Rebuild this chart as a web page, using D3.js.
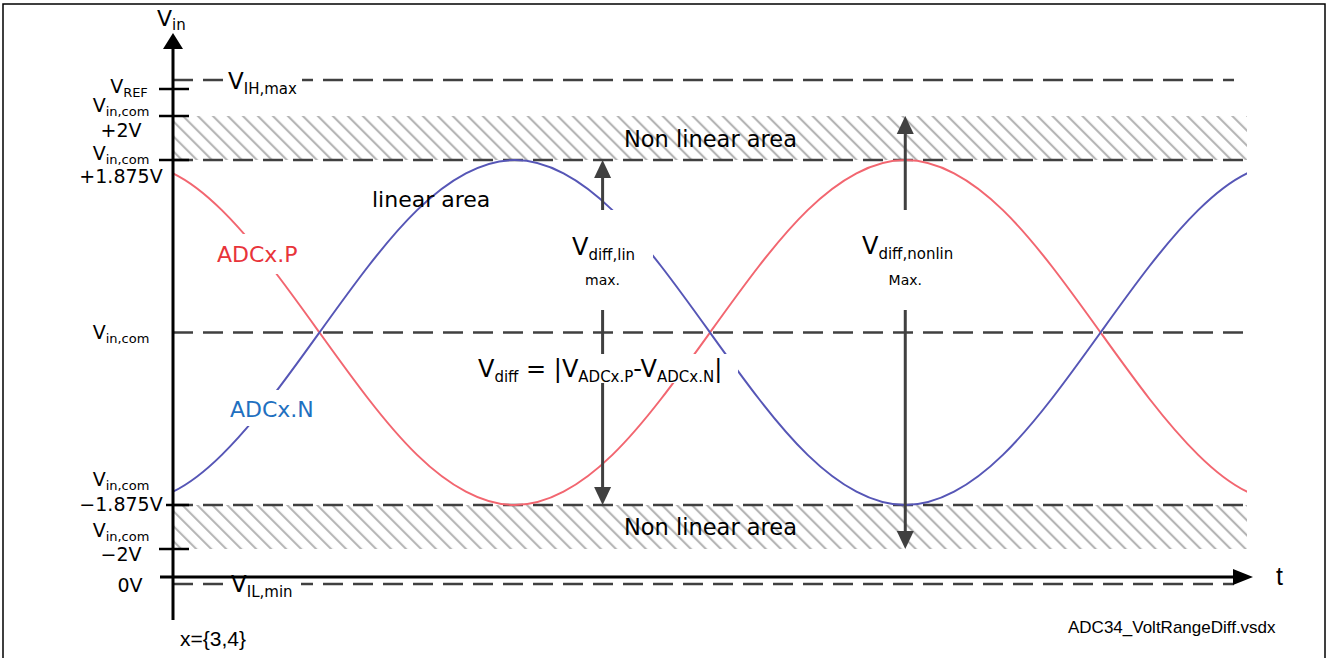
<!DOCTYPE html>
<html>
<head>
<meta charset="utf-8">
<script src="https://cdn.jsdelivr.net/npm/d3@7"></script>
<style>
  body { margin: 0; background: #fff; }
  text { font-family: "DejaVu Sans", Verdana, sans-serif; }
</style>
</head>
<body>
<svg id="chart" width="1329" height="658"></svg>
<script>

// time samples, 1/16 of a period apart (one period = 8 units);
// one extra sample past each edge so the curve keeps its slope there
var tSamples = [-0.5, 0, 0.5, 1, 1.5, 2, 2.5, 3, 3.5, 4, 4.5, 5, 5.5,
                6, 6.5, 7, 7.5, 8, 8.5, 9, 9.5, 10, 10.5, 11, 11.5];

// input voltages, volts relative to Vin,com
var adcP = [1.875, 1.73, 1.33, 0.72, 0, -0.72, -1.33, -1.73, -1.875, -1.73, -1.33, -0.72, 0,
            0.72, 1.33, 1.73, 1.875, 1.73, 1.33, 0.72, 0, -0.72, -1.33, -1.73, -1.875];
var adcN = [-1.875, -1.73, -1.33, -0.72, 0, 0.72, 1.33, 1.73, 1.875, 1.73, 1.33, 0.72, 0,
            -0.72, -1.33, -1.73, -1.875, -1.73, -1.33, -0.72, 0, 0.72, 1.33, 1.73, 1.875];

// reference levels on the vertical axis (schematic, not to scale)
var levelNames = ["VIL,min", "0V", "Vin,com-2V", "Vin,com-1.875V",
                  "Vin,com+1.875V", "Vin,com+2V", "VREF", "VIH,max"];
var levelVolts = [-2.6, -2.5, -2, -1.875, 1.875, 2, 2.5, 2.6];

// tick labels: value, lines of [main, subscript]
var tickLabels = [
    { v: 2.5,    lines: [["V", "REF"]] },
    { v: 2,      lines: [["V", "in,com"], ["+2V", ""]] },
    { v: 1.875,  lines: [["V", "in,com"], ["+1.875V", ""]] },
    { v: 0,      lines: [["V", "in,com"]] },
    { v: -1.875, lines: [["V", "in,com"], ["\u22121.875V", ""]] },
    { v: -2,     lines: [["V", "in,com"], ["\u22122V", ""]] },
    { v: -2.5,   lines: [["0V", ""]] }
];
var tickMarks = [2.5, 2, 1.875, -1.875, -2];
var dashedFull = [1.875, 0, -1.875];
var dashedShort = [2.6, -2.6];

// arrow annotations: time position, from level, to level
var arrows = [
    { t: 4.4, from: -1.875, to: 1.875 },
    { t: 7.5, from: -2, to: 2 }
];

// ---- layout ----
var svg = d3.select("#chart");
var yStops = [584, 577, 549, 505, 160, 116, 89, 80];
var x = d3.scaleLinear().domain([0, 11]).range([173, 1247]);
var y = d3.scaleLinear().domain(levelVolts).range(yStops);
var axisX = x(0);
var dashColor = "#404040";

// frame
svg.append("rect")
    .attr("x", 3).attr("y", 4)
    .attr("width", 1322).attr("height", 660)
    .attr("fill", "none")
    .attr("stroke", "#000")
    .attr("stroke-width", 1.5);

var defs = svg.append("defs");

// hatch pattern
defs.append("pattern")
    .attr("id", "hatch")
    .attr("patternUnits", "userSpaceOnUse")
    .attr("width", 10.6).attr("height", 10.6)
    .attr("patternTransform", "rotate(-45)")
    .append("line")
    .attr("x1", 5).attr("y1", 0)
    .attr("x2", 5).attr("y2", 10.6)
    .attr("stroke", "#b0b0b0")
    .attr("stroke-width", 2);

// clip for the signals
defs.append("clipPath")
    .attr("id", "plotclip")
    .append("rect")
    .attr("x", x(0)).attr("y", 0)
    .attr("width", x(11) - x(0)).attr("height", 658);

[[1.875, 2], [-2, -1.875]].forEach(function (b) {
    svg.append("rect")
        .attr("x", axisX)
        .attr("y", y(b[1]))
        .attr("width", x(11) - axisX)
        .attr("height", y(b[0]) - y(b[1]))
        .attr("fill", "url(#hatch)");
});

// dashed reference lines
svg.selectAll(".dfull")
    .data(dashedFull)
    .enter().append("line")
    .attr("x1", axisX).attr("x2", x(11))
    .attr("y1", function (d) { return y(d); })
    .attr("y2", function (d) { return y(d); })
    .attr("stroke", dashColor)
    .attr("stroke-width", 2.5)
    .attr("stroke-dasharray", "20 10");

svg.selectAll(".dshort")
    .data(dashedShort)
    .enter().append("line")
    .attr("x1", axisX).attr("x2", 1234)
    .attr("y1", function (d) { return y(d); })
    .attr("y2", function (d) { return y(d); })
    .attr("stroke", dashColor)
    .attr("stroke-width", 2.5)
    .attr("stroke-dasharray", "20 10");

// signals
var line = d3.line()
    .x(function (d, i) { return x(tSamples[i]); })
    .y(function (d) { return y(d); })
    .curve(d3.curveNatural);

var sig = svg.append("g").attr("clip-path", "url(#plotclip)");
sig.append("path").attr("d", line(adcP))
    .attr("fill", "none").attr("stroke", "#f26670").attr("stroke-width", 2);
sig.append("path").attr("d", line(adcN))
    .attr("fill", "none").attr("stroke", "#5656b6").attr("stroke-width", 2);

// arrows
function arrowHead(xp, yp, dir) {
    svg.append("path")
        .attr("d", "M" + xp + "," + yp +
              "L" + (xp - 8.5) + "," + (yp + dir * 18) +
              "L" + (xp + 8.5) + "," + (yp + dir * 18) + "Z")
        .attr("fill", dashColor);
}
arrows.forEach(function (a) {
    var xa = x(a.t);
    svg.append("line")
        .attr("x1", xa).attr("x2", xa)
        .attr("y1", y(a.to) + 10).attr("y2", y(a.from) - 10)
        .attr("stroke", dashColor).attr("stroke-width", 3);
    arrowHead(xa, y(a.to), 1);
    arrowHead(xa, y(a.from), -1);
});

// rich text: parts are [text, isSub]
function rich(x0, y0, parts, size, subSize, anchor, color) {
    var t = svg.append("text")
        .attr("x", x0).attr("y", y0)
        .attr("text-anchor", anchor || "start")
        .attr("fill", color || "#000")
        .style("font-size", size + "px");
    var shift = 0;
    parts.forEach(function (p) {
        if (!p[0]) return;
        var want = p[1] ? Math.round(size * 0.2) : 0;
        t.append("tspan")
            .attr("dy", want - shift)
            .style("font-size", (p[1] ? subSize : size) + "px")
            .text(p[0]);
        shift = want;
    });
    return t;
}

function whiteBox(x0, y0, w, h) {
    svg.append("rect")
        .attr("x", x0).attr("y", y0)
        .attr("width", w).attr("height", h)
        .attr("fill", "#fff");
}

// labels over the curves
whiteBox(560, 210, 93, 100);
rich(572, 255, [["V", 0], ["diff,lin", 1]], 24, 15);
svg.append("text").attr("x", x(arrows[0].t)).attr("y", 285)
    .attr("text-anchor", "middle").style("font-size", "14px").text("max.");

whiteBox(853, 210, 106, 100);
rich(862, 254, [["V", 0], ["diff,nonlin", 1]], 24, 15);
svg.append("text").attr("x", x(arrows[1].t)).attr("y", 285)
    .attr("text-anchor", "middle").style("font-size", "14px").text("Max.");

whiteBox(470, 354, 268, 29);
rich(478, 377, [["V", 0], ["diff", 1], [" = |V", 0], ["ADCx.P", 1], ["-V", 0], ["ADCx.N", 1], ["|", 0]], 24, 15);

whiteBox(210, 234, 104, 40);
svg.append("text").attr("x", 217).attr("y", 262)
    .attr("fill", "#e8343a").style("font-size", "22px").text("ADCx.P");
whiteBox(222, 390, 104, 36);
svg.append("text").attr("x", 230).attr("y", 417)
    .attr("fill", "#1f70c0").style("font-size", "22px").text("ADCx.N");

svg.append("text").attr("x", 372).attr("y", 207)
    .style("font-size", "22px").text("linear area");
svg.append("text").attr("x", 624).attr("y", 147)
    .style("font-size", "22.5px").text("Non linear area");
svg.append("text").attr("x", 624).attr("y", 535)
    .style("font-size", "22.5px").text("Non linear area");

// limit labels on the short dashed lines
whiteBox(224, y(2.6) - 14, 78, 24);
rich(228, y(2.6) + 9, [["V", 0], ["IH,max", 1]], 23, 15);
whiteBox(227, y(-2.6) - 6, 74, 20);
rich(231, y(-2.6) + 8, [["V", 0], ["IL,min", 1]], 23, 15);

// tick marks
svg.selectAll(".tick")
    .data(tickMarks)
    .enter().append("line")
    .attr("x1", function (d) { return d === -1.875 ? 166 : 159; })
    .attr("x2", 189)
    .attr("y1", function (d) { return y(d); })
    .attr("y2", function (d) { return y(d); })
    .attr("stroke", "#000").attr("stroke-width", 2.5);

// tick labels: per-label line offsets
var labelOffsets = {
    "2.5": { cx: 129, dy: [4] },
    "2": { cx: 121, dy: [-4, 21] },
    "1.875": { cx: 121, dy: [0, 23] },
    "0": { cx: 121, dy: [6] },
    "-1.875": { cx: 121, dy: [-19, 6] },
    "-2": { cx: 121, dy: [-12, 12] },
    "-2.5": { cx: 130, dy: [15] }
};
tickLabels.forEach(function (tl) {
    var off = labelOffsets[String(tl.v)];
    tl.lines.forEach(function (ln, i) {
        rich(off.cx, y(tl.v) + off.dy[i], [[ln[0], 0], [ln[1], 1]], 19, 13, "middle");
    });
});

// axes
svg.append("line")
    .attr("x1", axisX).attr("x2", axisX)
    .attr("y1", 620).attr("y2", 46)
    .attr("stroke", "#000").attr("stroke-width", 3);
svg.append("path")
    .attr("d", "M" + axisX + ",33L" + (axisX - 10) + ",49L" + (axisX + 10) + ",49Z")
    .attr("fill", "#000");
svg.append("line")
    .attr("x1", 160).attr("x2", 1236)
    .attr("y1", y(-2.5)).attr("y2", y(-2.5))
    .attr("stroke", "#000").attr("stroke-width", 3);
svg.append("path")
    .attr("d", "M1253," + y(-2.5) + "L1233," + (y(-2.5) - 8) + "L1233," + (y(-2.5) + 8) + "Z")
    .attr("fill", "#000");

rich(157, 26, [["V", 0], ["in", 1]], 22, 15);
svg.append("text").attr("x", 1276).attr("y", 585)
    .style("font-family", "Liberation Sans, Arial, sans-serif")
    .style("font-size", "25px").text("t");

svg.append("text").attr("x", 180).attr("y", 646)
    .style("font-family", "Liberation Sans, Arial, sans-serif")
    .style("font-size", "21px").text("x={3,4}");
svg.append("text").attr("x", 1068).attr("y", 633)
    .style("font-family", "Liberation Sans, Arial, sans-serif")
    .style("font-size", "17px").text("ADC34_VoltRangeDiff.vsdx");

</script>
</body>
</html>
